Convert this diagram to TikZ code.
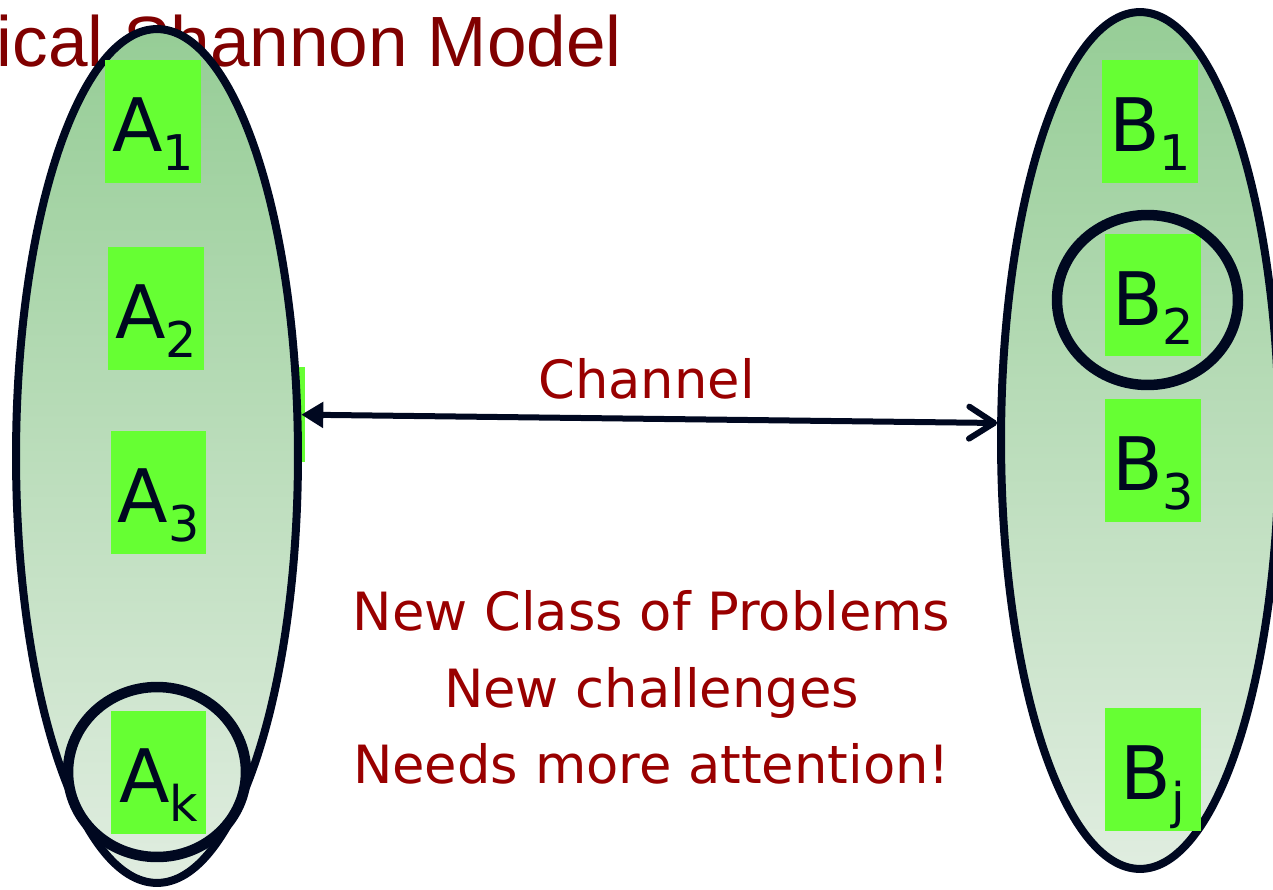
\documentclass[tikz,border=0pt]{standalone}
\usepackage{fontspec}
\setmainfont{DejaVu Sans}
\newfontfamily\titlefont{Liberation Sans}
\usetikzlibrary{shapes.geometric,arrows.meta}
\definecolor{ink}{RGB}{0,8,32}
\definecolor{boxgreen}{RGB}{102,255,51}
\definecolor{setdark}{RGB}{150,205,150}
\definecolor{setlight}{RGB}{224,237,224}
\definecolor{darkred}{RGB}{153,0,0}
\definecolor{titlered}{RGB}{128,0,0}
\newcommand{\sublab}[2]{#1\raisebox{-0.38cm}{\fontsize{28}{28}\selectfont #2}}

\begin{document}
\begin{tikzpicture}[x=0.02cm, y=-0.02cm,
	set/.style={draw=ink, line width=0.16cm, ellipse, top color=setdark, bottom color=setlight, inner sep=0pt},
	sym/.style={fill=boxgreen, text=ink, minimum width=1.92cm, minimum height=2.46cm, inner sep=0pt, text height=34.6pt, text depth=0pt, font=\fontsize{42}{42}\selectfont},
	ring/.style={draw=ink, ellipse, line width=0.21cm, minimum height=3.4cm, inner sep=0pt},
	redtext/.style={text=darkred, font=\fontsize{30}{30}\selectfont, anchor=base}]
		\useasboundingbox (0,0) rectangle (1273,889);
		\clip (0,0) rectangle (1273,889);
		
		\node[anchor=base east, text=titlered, font=\titlefont\fontsize{40.5}{40.5}\selectfont] (heading) at (628,66) {Classical Shannon Model};
		\fill[boxgreen] (270,367) rectangle (305,462);
		
		% sender side
		\node[set, minimum width=5.64cm, minimum height=17.08cm] (setA) at (157,456) {};
		\node[sym] (A1) at (153,121.5) {\sublab{A}{1}};
		\node[sym] (A2) at (156,308.5) {\sublab{A}{2}};
		\node[sym] (A3) at (158.5,492.5) {\sublab{A}{3}};
		\node[sym] (Ak) at (158.5,772.5) {\sublab{A}{k}};
		\node[ring, minimum width=3.56cm] (ringA) at (157,772) {};
		
		% receiver side
		\node[set, minimum width=5.56cm, minimum height=17.14cm] (setB) at (1140,440.5) {};
		\node[sym] (B1) at (1150,121.5) {\sublab{B}{1}};
		\node[sym] (B2) at (1153,295) {\sublab{B}{2}};
		\node[sym] (B3) at (1153,460.5) {\sublab{B}{3}};
		\node[sym] (Bj) at (1153,769.5) {\sublab{B}{j}};
		\node[ring, minimum width=3.62cm] (ringB) at (1147.5,300) {};
		
		\draw[ink, line width=0.12cm, {Triangle[length=0.44cm,width=0.5cm]}-{Straight Barb[length=0.5cm,width=0.64cm,round]}] (setA.16) -- (setB.173);
		\node[redtext] (chan) at (646.5,398) {Channel};
		
		\node[redtext] (line1) at (651.5,630) {New Class of Problems};
		\node[redtext] (line2) at (651.5,707) {New challenges};
		\node[redtext] (line3) at (651.5,783) {Needs more attention!};
	\end{tikzpicture}
\end{document}
